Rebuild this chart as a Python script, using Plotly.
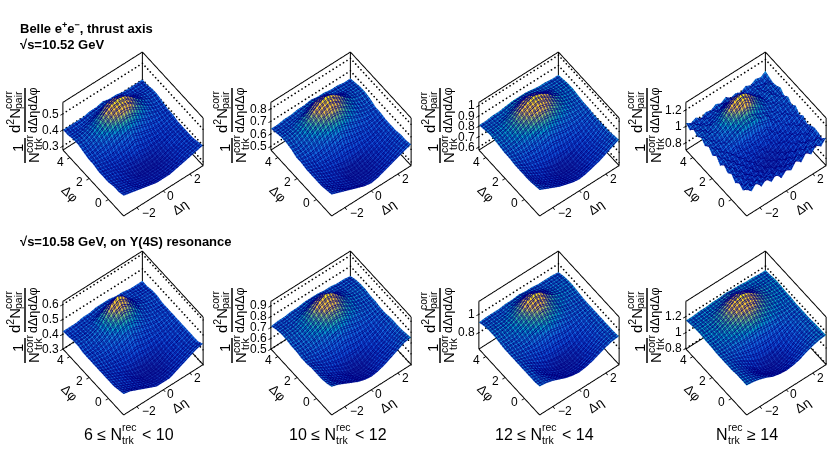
import numpy as np
import plotly.graph_objects as go

W, H = 830, 453
FONT = "Liberation Sans"

# Values in units of 0.01. Rows run along dphi (-pi/2 .. 3pi/2), columns along deta (-3 .. 3).
z_1052_a = [
[40,39,38,37,36,35,35,35,36,37,38,39,40],[39,38,37,35,34,33,33,33,34,35,37,38,39],
[39,37,36,34,33,32,32,32,33,34,36,37,38],[38,37,35,34,32,31,31,31,32,34,35,37,38],
[38,37,36,34,33,32,32,32,33,34,36,37,38],[38,37,36,35,35,35,36,35,35,35,36,37,38],
[39,38,37,37,38,39,41,39,38,37,37,38,39],[39,39,40,41,43,45,46,45,43,41,40,39,39],
[40,40,42,45,48,51,52,51,48,45,42,40,40],[41,41,43,46,50,53,54,53,50,46,43,41,41],
[41,41,42,44,47,50,51,50,47,44,42,41,41],[40,40,40,41,42,43,44,43,42,41,40,40,40],
[40,40,40,40,41,41,42,41,41,40,40,40,40]]
z_1052_b = [
[64,62,60,58,56,54,53,54,56,58,60,62,64],[63,61,58,55,53,51,51,52,53,55,58,61,63],
[62,59,57,54,52,50,50,50,52,54,57,60,63],[62,59,56,54,52,49,49,50,51,54,56,59,62],
[62,60,57,55,53,51,50,51,53,55,57,60,62],[62,60,58,57,57,57,58,57,57,57,58,60,62],
[63,61,60,61,62,64,66,64,62,61,60,61,63],[63,63,64,66,69,72,73,72,69,66,64,63,63],
[65,64,66,70,74,78,80,78,74,70,66,64,65],[66,66,68,72,77,81,83,81,77,72,68,66,66],
[66,66,67,70,73,77,78,77,73,70,67,66,66],[65,65,65,66,67,69,70,69,67,66,65,65,65],
[64,64,65,65,66,66,67,66,66,65,65,64,64]]
z_1052_c = [
[82,79,76,73,71,69,68,69,71,73,76,79,82],[81,78,74,71,68,66,65,66,68,71,74,78,81],
[80,76,72,69,66,63,63,63,66,69,72,76,80],[80,75,71,68,65,62,61,62,65,68,71,75,80],
[80,76,72,69,66,64,63,64,66,69,72,76,80],[80,77,74,73,72,72,73,72,72,73,74,77,80],
[81,79,78,78,79,81,83,81,79,78,78,79,81],[81,81,82,84,87,90,91,90,87,84,82,81,81],
[82,82,84,88,92,96,98,96,92,88,84,82,82],[83,83,85,89,95,99,101,99,95,89,85,83,83],
[83,83,84,87,91,95,96,95,91,87,84,83,83],[82,82,82,83,85,87,88,87,85,83,82,82,82],
[81,81,82,82,83,84,84,84,83,82,82,81,81]]
z_1052_d = [
[103,97,104,95,101,93,99,90,96,92,100,94,102,96,103,98,105],
[97,102,94,99,90,96,88,95,89,94,91,98,93,100,96,103,99],
[101,94,98,91,96,87,93,84,91,86,94,89,97,92,99,95,101],
[96,100,92,95,88,92,84,90,83,90,86,93,88,96,91,98,102],
[102,95,97,90,94,85,89,82,87,84,90,85,93,90,97,93,100],
[98,101,93,96,89,92,85,89,83,88,85,92,90,95,92,99,97],
[103,96,99,92,95,88,91,86,90,85,91,88,94,91,98,94,102],
[97,101,95,98,91,94,90,93,89,94,90,95,92,97,94,100,98],
[104,98,100,95,99,94,97,94,98,95,98,93,99,96,101,97,104],
[99,103,97,102,102,106,108,110,108,110,105,105,98,101,98,102,100],
[105,100,102,99,104,106,110,112,114,111,108,105,103,99,103,100,105],
[101,104,100,105,107,113,118,122,126,122,116,111,105,103,100,104,101],
[106,102,104,103,110,116,123,127,128,126,120,114,108,102,105,101,106],
[102,105,101,106,106,113,117,122,123,120,115,109,107,101,104,102,103],
[106,101,104,100,104,106,110,113,114,112,108,105,102,104,100,105,102],
[100,104,99,103,100,104,102,106,104,105,101,103,99,103,101,99,104],
[104,100,103,98,102,100,104,101,105,100,102,99,103,100,104,102,106]]
z_1058_a = [
[44,43,41,39,37,35,35,35,37,39,41,43,44],[43,41,39,37,35,34,33,34,35,37,39,41,42],
[42,40,38,36,34,32,32,32,34,36,38,40,42],[42,40,38,36,33,31,31,31,33,36,38,40,42],
[42,40,38,36,34,33,32,33,34,36,38,40,42],[42,40,39,38,37,37,38,37,37,38,39,40,42],
[42,41,40,40,41,42,44,42,41,40,40,41,42],[42,42,42,43,45,48,49,48,45,43,42,42,42],
[42,42,43,45,49,53,55,53,49,45,43,42,42],[43,43,44,46,51,57,60,57,51,46,44,43,43],
[43,43,43,45,49,52,54,52,49,45,43,43,43],[42,42,43,43,44,45,46,45,44,43,43,42,42],
[42,42,42,43,43,44,44,44,43,43,42,42,42]]
z_1058_b = [
[76,74,71,68,65,63,62,63,65,68,71,74,75],[74,72,68,65,62,59,58,59,62,65,68,72,74],
[73,70,66,63,60,56,55,56,60,63,66,70,73],[73,69,65,62,58,55,54,55,58,62,65,69,73],
[73,70,66,63,60,58,57,58,60,63,66,70,73],[72,70,67,66,65,65,66,65,65,66,67,70,72],
[72,71,70,70,71,73,75,73,71,70,70,71,72],[73,72,73,75,77,81,82,81,77,75,73,72,73],
[73,73,74,77,81,86,88,86,81,77,74,73,73],[74,74,75,78,84,90,93,90,84,78,75,74,74],
[74,74,74,77,81,85,87,85,81,77,74,74,74],[73,73,73,74,75,77,78,77,75,74,73,73,73],
[71,72,72,73,73,74,74,74,73,73,72,72,71]]
z_1058_c = [
[93,92,90,87,84,82,81,82,84,87,90,92,93],[92,91,88,84,80,77,76,77,80,84,88,91,92],
[92,90,86,81,77,74,73,74,77,81,86,90,92],[92,90,85,80,76,73,72,73,76,80,85,90,92],
[92,90,86,82,78,76,75,76,78,82,86,90,92],[92,90,88,86,84,84,85,84,84,86,88,90,92],
[92,91,90,90,92,94,96,94,92,90,90,91,92],[92,92,92,94,97,100,102,100,97,94,92,92,92],
[93,93,94,96,100,105,108,105,100,96,94,93,93],[94,94,95,98,103,110,113,110,103,98,95,94,94],
[94,94,94,96,100,105,107,105,100,96,94,94,94],[93,93,93,93,95,97,98,97,95,93,93,93,93],
[91,92,92,92,93,93,94,93,93,92,92,92,91]]
z_1058_d = [
[116,115,113,110,106,104,103,104,106,110,113,115,116],[116,114,111,107,102,98,96,98,102,107,111,114,116],
[116,113,109,103,97,93,91,93,97,103,109,113,116],[115,113,108,102,95,91,89,91,95,102,108,113,115],
[115,113,109,104,99,95,94,95,99,104,109,113,115],[115,113,111,109,107,106,106,106,107,109,111,113,115],
[115,114,114,115,116,118,120,118,116,115,114,114,115],[116,115,116,118,121,125,127,125,121,118,116,115,116],
[116,116,118,121,126,131,133,131,126,121,118,116,116],[117,117,118,122,128,134,137,134,128,122,118,117,117],
[117,117,118,120,124,129,131,129,124,120,118,117,117],[116,116,116,117,118,120,122,120,118,117,116,116,116],
[115,115,116,116,117,117,118,117,117,116,116,115,115]]

panels = [z_1052_a, z_1052_b, z_1052_c, z_1052_d, z_1058_a, z_1058_b, z_1058_c, z_1058_d]
z_ranges = [(.275,.57),(.47,.85),(.57,1.03),(.71,1.29),(.30,.62),(.50,.94),(.62,1.14),(.79,1.39)]
z_ticks = [[.3,.4,.5],[.5,.6,.7,.8],[.6,.7,.8,.9,1],[.8,1,1.2],[.3,.4,.5,.6],[.5,.6,.7,.8,.9],[.8,1],[.8,1,1.2]]
z_tick_text = [["0.3","0.4","0.5"],["0.5","0.6","0.7","0.8"],["0.6","0.7","0.8","0.9","1"],["0.8","1","1.2"],
               ["0.3","0.4","0.5","0.6"],["0.5","0.6","0.7","0.8","0.9"],["0.8","1"],["0.8","1","1.2"]]
eta_ticks = [-2, 0, 2]
phi_ticks = [0, 2, 4]
ETA = (-3.0, 3.0)
PHI = (-np.pi/2, 3*np.pi/2)

bird = [[0,"rgb(20,45,165)"],[.2,"rgb(15,80,215)"],[.38,"rgb(20,110,225)"],[.5,"rgb(20,135,218)"],
        [.58,"rgb(6,164,202)"],[.67,"rgb(46,183,164)"],[.76,"rgb(135,191,119)"],[.84,"rgb(230,190,70)"],
        [.92,"rgb(254,205,45)"],[1,"rgb(249,240,20)"]]
MESH = "rgb(0,0,130)"
N_MESH = 28
MESH_SHIFT = 0.07

col_x = [123, 331, 539, 746]
row_bot = [216, 417]
row_top = [52, 248]
frac_x = [25, 232, 440, 647]
frac_y = [88, 288]
HALF_W, HALF_H = 74, 100
PAD = 0.25
EYE = np.array([-.339, -.444, .829]) * 1.6

def xp(x): return x / W
def yp(y): return 1 - y / H

fig = go.Figure()
scenes = {}
annots = []
shapes = []

def add_text(x, y, text, size, angle=0, anchor="center", bold=False):
    t = f"<b>{text}</b>" if bold else text
    annots.append(dict(x=xp(x), y=yp(y), xref="paper", yref="paper", text=t, showarrow=False,
                       xanchor=anchor, yanchor="middle", textangle=angle, borderpad=0, borderwidth=0,
                       font=dict(family=FONT, size=size, color="black")))

def line3d(name, xs, ys, zs, width):
    fig.add_trace(go.Scatter3d(x=xs, y=ys, z=zs, mode="lines", scene=name, showlegend=False, hoverinfo="skip",
                               line=dict(color="black", width=width)))

LIGHT = dict(ambient=1, diffuse=0, specular=0, fresnel=0, roughness=1)

for i, values in enumerate(panels):
    r, c = i // 4, i % 4
    name = "scene" if i == 0 else f"scene{i+1}"
    z0, z1 = z_ranges[i]
    zpad = (z1 - z0) * .06
    z = np.array(values) / 100
    eta = np.linspace(ETA[0], ETA[1], z.shape[1])
    phi = np.linspace(PHI[0], PHI[1], z.shape[0])
    e0, e1, p0, p1 = ETA[0], ETA[1], PHI[0], PHI[1]
    for shift, hide in [(0, False), (MESH_SHIFT, True)]:
        fig.add_trace(go.Surface(x=eta, y=phi, z=z, scene=name, colorscale=bird, showscale=False, hoverinfo="skip",
            hidesurface=hide, lighting=LIGHT,
            contours=dict(
                x=dict(show=True, start=e0+shift, end=e1, size=(e1-e0)/N_MESH, color=MESH, width=1, highlight=False),
                y=dict(show=True, start=p0+shift, end=p1, size=(p1-p0)/N_MESH, color=MESH, width=1, highlight=False),
                z=dict(highlight=False))))
    # box edges, one trace each
    for a, b in [((e0,p0,z0),(e1,p0,z0)), ((e0,p0,z0),(e0,p1,z0)), ((e0,p1,z0),(e1,p1,z0)), ((e1,p0,z0),(e1,p1,z0)),
                 ((e0,p1,z0),(e0,p1,z1)), ((e1,p0,z0),(e1,p0,z1)), ((e1,p1,z0),(e1,p1,z1)),
                 ((e0,p1,z1),(e1,p1,z1)), ((e1,p0,z1),(e1,p1,z1))]:
        line3d(name, [a[0],b[0]], [a[1],b[1]], [a[2],b[2]], 2)
    for t in phi_ticks:
        line3d(name, [e0,e0-.2], [t,t], [z0,z0], 1.5)
    for t in eta_ticks:
        line3d(name, [t,t], [p0,p0-.2], [z0,z0], 1.5)
    for t in z_ticks[i]:
        line3d(name, [e0,e0-.2], [p1,p1], [t,t], 1.5)
    # dotted grid on the two back walls, drawn as small dots
    nd = 24
    dx, dy, dz = [], [], []
    for t in z_ticks[i]:
        dx += list(np.linspace(e0, e1, nd)) + [e1]*nd
        dy += [p1]*nd + list(np.linspace(p1, p0, nd))
        dz += [t]*(2*nd)
    fig.add_trace(go.Scatter3d(x=dx, y=dy, z=dz, mode="markers", scene=name, showlegend=False, hoverinfo="skip",
                               marker=dict(color="black", size=1, line=dict(width=0))))
    # scene-anchored tick labels and axis titles
    sa = []
    tf = dict(family=FONT, size=12, color="black")
    for t in phi_ticks:
        sa.append(dict(x=e0, y=t, z=z0, text=str(t), showarrow=False, xshift=-9, yshift=-4, font=tf))
    for t in eta_ticks:
        sa.append(dict(x=t, y=p0, z=z0, text=str(t).replace("-", "\u2212"), showarrow=False,
                       xshift=13 if t < 0 else 8, yshift=-5, font=tf))
    for t, s in zip(z_ticks[i], z_tick_text[i]):
        sa.append(dict(x=e0, y=p1, z=t, text=s, showarrow=False, xanchor="right", xshift=-1, font=tf))
    tt = dict(family=FONT, size=13, color="black")
    sa.append(dict(x=e0, y=1, z=z0, text="\u0394\u03c6", showarrow=False, xshift=-29, yshift=-5, textangle=45, font=tt))
    sa.append(dict(x=.9, y=p0, z=z0, text="\u0394\u03b7", showarrow=False, xshift=5, yshift=-24, textangle=-35, font=tt))
    cx = col_x[c] + 9.5
    cy = (row_bot[r] + row_top[r]) / 2
    ax_off = dict(visible=False, showgrid=False, zeroline=False, showspikes=False, autorange=False)
    scenes[name] = dict(
        domain=dict(x=[xp(cx-HALF_W), xp(cx+HALF_W)], y=[yp(cy+HALF_H), yp(cy-HALF_H)]),
        xaxis=dict(range=[e0-PAD, e1+PAD], **ax_off),
        yaxis=dict(range=[p0-PAD, p1+PAD], **ax_off),
        zaxis=dict(range=[z0-zpad, z1+zpad], **ax_off),
        aspectmode="manual",
        aspectratio=dict(x=(e1-e0+2*PAD)/(e1-e0), y=(p1-p0+2*PAD)/(p1-p0), z=.853*1.12),
        camera=dict(projection=dict(type="orthographic"), up=dict(x=0,y=0,z=1), center=dict(x=0,y=0,z=0),
                    eye=dict(x=EYE[0], y=EYE[1], z=EYE[2])),
        annotations=sa, bgcolor="rgba(0,0,0,0)")
    # y-axis title
    L, y0 = frac_x[c], frac_y[r]
    shapes.append(dict(type="line", xref="paper", yref="paper", x0=xp(L), x1=xp(L), y0=yp(y0), y1=yp(y0+44), line=dict(color="black", width=1.5)))
    shapes.append(dict(type="line", xref="paper", yref="paper", x0=xp(L), x1=xp(L), y0=yp(y0+50), y1=yp(y0+75), line=dict(color="black", width=1.5)))
    add_text(L-12, y0+33, "d<sup>2</sup>N", 15, -90)
    add_text(L-17, y0+12, "corr", 10.5, -90)
    add_text(L-7, y0+12, "pair", 10.5, -90)
    add_text(L+8, y0+22, "d\u0394\u03b7d\u0394\u03c6", 12.5, -90)
    add_text(L-8, y0+60, "1", 15, -90)
    add_text(L+8, y0+70, "N", 15, -90)
    add_text(L+4, y0+56, "corr", 10.5, -90)
    add_text(L+13, y0+56, "trk", 10.5, -90)

add_text(20, 28, "Belle e<sup>+</sup>e<sup>\u2212</sup>, thrust axis", 13, anchor="left", bold=True)
add_text(20, 44, "\u221as=10.52 GeV", 13, anchor="left", bold=True)
add_text(20, 241, "\u221as=10.58 GeV, on \u03a5(4S) resonance", 13, anchor="left", bold=True)

labels = [("6 \u2264 N", 122, 122, "< 10", 142), ("10 \u2264 N", 336, 336, "< 12", 355),
          ("12 \u2264 N", 542, 542, "< 14", 562), ("N", 728, 728, "\u2265 14", 747)]
for left, rx, sx_, right, qx in labels:
    add_text(rx, 434, left, 16, anchor="right")
    add_text(sx_, 427, "rec", 10.5, anchor="left")
    add_text(sx_, 440, "trk", 10.5, anchor="left")
    add_text(qx, 434, right, 16, anchor="left")

fig.update_layout(width=W, height=H, margin=dict(l=0, r=0, t=0, b=0), paper_bgcolor="white",
                  showlegend=False, annotations=annots, shapes=shapes, **scenes)
fig.write_html("out.html", config=dict(displayModeBar=False),
               post_script="document.body.style.margin='0';")
